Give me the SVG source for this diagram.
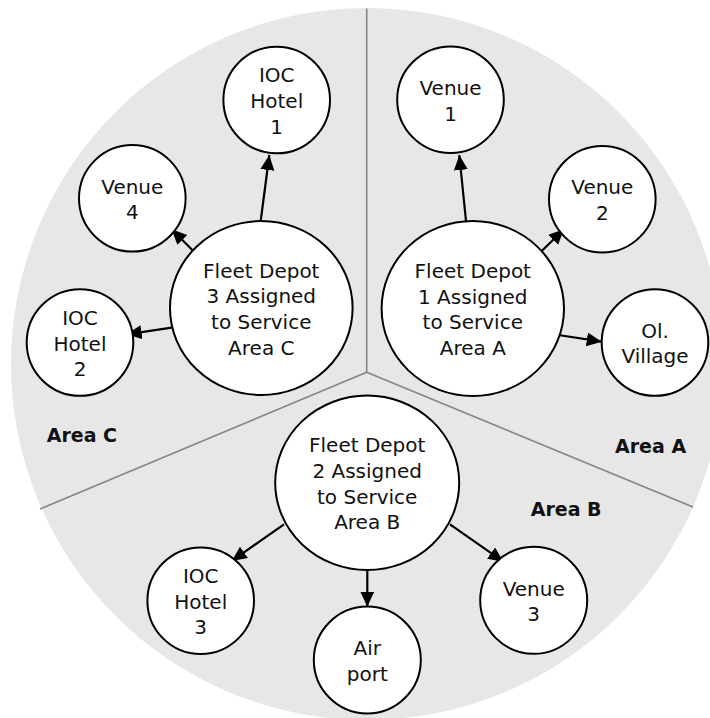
<svg xmlns="http://www.w3.org/2000/svg" width="710" height="718" viewBox="0 0 710 718">
  <style>
    .node { fill: #ffffff; stroke: #000000; stroke-width: 2; }
    .t { font-family: "DejaVu Sans", "Liberation Sans", sans-serif; font-size: 20px; fill: #111111; text-anchor: middle; }
    .area { font-family: "DejaVu Sans", "Liberation Sans", sans-serif; font-size: 19px; font-weight: bold; fill: #111111; }
    .divider { stroke: #858585; stroke-width: 1.6; fill: none; }
    .edge { stroke: #000000; stroke-width: 2.2; fill: none; marker-end: url(#arrow); }
  </style>
  <defs>
    <marker id="arrow" markerUnits="userSpaceOnUse" markerWidth="16" markerHeight="15" refX="15" refY="7" orient="auto">
      <path d="M0,0 L15,7 L0,14 z" fill="#000000"/>
    </marker>
  </defs>

  <g id="background">
    <circle cx="367" cy="364" r="356" fill="#e7e7e7"/>
    <line class="divider" x1="366.7" y1="372.3" x2="366.7" y2="8.5"/>
    <line class="divider" x1="366.7" y1="372.3" x2="40" y2="509"/>
    <line class="divider" x1="366.7" y1="372.3" x2="693" y2="507"/>
  </g>

  <g id="connectors">
    <line class="edge" x1="260.7" y1="221" x2="269.3" y2="155"/>
    <line class="edge" x1="193.3" y1="251" x2="171.7" y2="229.3"/>
    <line class="edge" x1="171.7" y1="327.7" x2="126.7" y2="334.3"/>
    <line class="edge" x1="466" y1="221" x2="459.3" y2="155"/>
    <line class="edge" x1="541.7" y1="251" x2="564" y2="229.3"/>
    <line class="edge" x1="558.3" y1="335" x2="601.7" y2="341.7"/>
    <line class="edge" x1="284" y1="524.3" x2="231.7" y2="561"/>
    <line class="edge" x1="367.3" y1="570" x2="367.3" y2="606.7"/>
    <line class="edge" x1="450" y1="524.3" x2="503.3" y2="561.7"/>
  </g>

  <g id="ioc-hotel-1">
    <circle class="node" cx="276.7" cy="100" r="53.3"/>
    <text class="t" x="276.7" y="82.3">IOC</text>
    <text class="t" x="276.7" y="108">Hotel</text>
    <text class="t" x="276.7" y="133.7">1</text>
  </g>
  <g id="venue-1">
    <circle class="node" cx="450.5" cy="99.7" r="53.3"/>
    <text class="t" x="450.5" y="94.9">Venue</text>
    <text class="t" x="450.5" y="120.6">1</text>
  </g>
  <g id="venue-4">
    <circle class="node" cx="132.3" cy="198.3" r="53.3"/>
    <text class="t" x="132.3" y="193.5">Venue</text>
    <text class="t" x="132.3" y="219.2">4</text>
  </g>
  <g id="venue-2">
    <circle class="node" cx="602.3" cy="199.2" r="53.3"/>
    <text class="t" x="602.3" y="194.4">Venue</text>
    <text class="t" x="602.3" y="220.1">2</text>
  </g>
  <g id="ioc-hotel-2">
    <circle class="node" cx="80" cy="342.5" r="53.3"/>
    <text class="t" x="80" y="324.8">IOC</text>
    <text class="t" x="80" y="350.5">Hotel</text>
    <text class="t" x="80" y="376.2">2</text>
  </g>
  <g id="ol-village">
    <circle class="node" cx="655" cy="342.5" r="53.3"/>
    <text class="t" x="655" y="337.6">Ol.</text>
    <text class="t" x="655" y="363.3">Village</text>
  </g>
  <g id="fleet-depot-3">
    <ellipse class="node" cx="261.3" cy="308" rx="91.3" ry="87"/>
    <text class="t" x="261.3" y="277.5">Fleet Depot</text>
    <text class="t" x="261.3" y="303.2">3 Assigned</text>
    <text class="t" x="261.3" y="328.9">to Service</text>
    <text class="t" x="261.3" y="354.6">Area C</text>
  </g>
  <g id="fleet-depot-1">
    <ellipse class="node" cx="472.8" cy="308.5" rx="91.2" ry="87.5"/>
    <text class="t" x="472.8" y="278">Fleet Depot</text>
    <text class="t" x="472.8" y="303.7">1 Assigned</text>
    <text class="t" x="472.8" y="329.4">to Service</text>
    <text class="t" x="472.8" y="355.1">Area A</text>
  </g>
  <g id="fleet-depot-2">
    <ellipse class="node" cx="367.2" cy="482.8" rx="92" ry="87.2"/>
    <text class="t" x="367.2" y="452.3">Fleet Depot</text>
    <text class="t" x="367.2" y="478">2 Assigned</text>
    <text class="t" x="367.2" y="503.7">to Service</text>
    <text class="t" x="367.2" y="529.4">Area B</text>
  </g>
  <g id="ioc-hotel-3">
    <circle class="node" cx="200.7" cy="600.7" r="53.3"/>
    <text class="t" x="200.7" y="583">IOC</text>
    <text class="t" x="200.7" y="608.7">Hotel</text>
    <text class="t" x="200.7" y="634.4">3</text>
  </g>
  <g id="airport">
    <circle class="node" cx="367.3" cy="660" r="53.5"/>
    <text class="t" x="367.3" y="655.2">Air</text>
    <text class="t" x="367.3" y="680.9">port</text>
  </g>
  <g id="venue-3">
    <circle class="node" cx="533.7" cy="600.3" r="53.5"/>
    <text class="t" x="533.7" y="595.5">Venue</text>
    <text class="t" x="533.7" y="621.2">3</text>
  </g>

  <g id="area-labels">
    <text class="area" x="46.7" y="441.7">Area C</text>
    <text class="area" x="615" y="453.3">Area A</text>
    <text class="area" x="530.7" y="516">Area B</text>
  </g>
</svg>
